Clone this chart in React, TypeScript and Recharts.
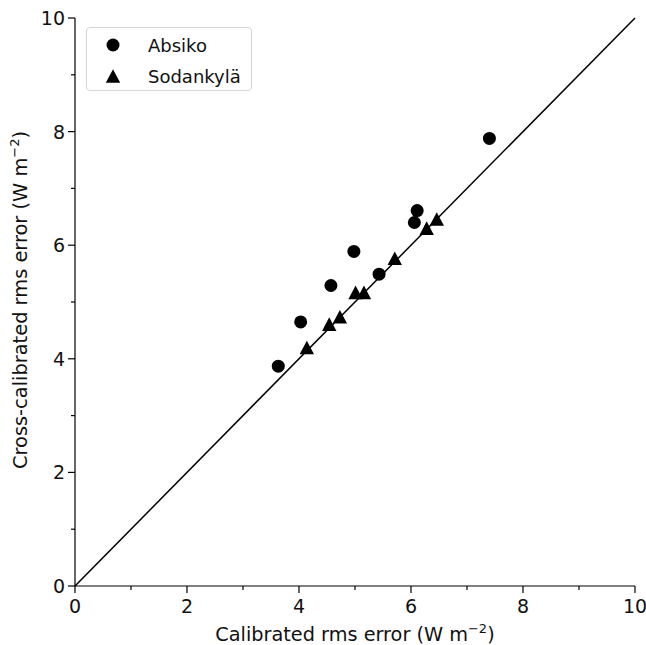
import { ScatterChart, Scatter, XAxis, YAxis, ReferenceLine, Legend } from 'recharts';

const FONT = '"DejaVu Sans", sans-serif';

// values
const absikoX = [3.63, 4.03, 4.57, 4.98, 5.43, 6.06, 6.11, 7.4];
const absikoY = [3.87, 4.65, 5.29, 5.89, 5.49, 6.4, 6.61, 7.88];
const sodankylaX = [4.14, 4.54, 4.73, 5.01, 5.16, 5.71, 6.28, 6.46];
const sodankylaY = [4.2, 4.61, 4.74, 5.17, 5.17, 5.77, 6.3, 6.46];
const seriesNames = ['Absiko', 'Sodankylä'];
const axisTicks = [0, 1, 2, 3, 4, 5, 6, 7, 8, 9, 10];
const identityLine = [{ x: 0, y: 0 }, { x: 10, y: 10 }];

const absiko = absikoX.map((x, i) => ({ x, y: absikoY[i] }));
const sodankyla = sodankylaX.map((x, i) => ({ x, y: sodankylaY[i] }));

const Dot = ({ cx, cy }: any) => <circle cx={cx} cy={cy} r={6.5} fill="#000" />;
const Tri = ({ cx, cy }: any) => (
    <path d={`M${cx},${cy - 6.8}L${cx + 7.2},${cy + 6.8}L${cx - 7.2},${cy + 6.8}Z`} fill="#000" />
);

const XTick = ({ x, y, payload }: any) => {
    const major = payload.value % 2 === 0;
    return (
        <g>
            <line x1={x} x2={x} y1={y} y2={y + (major ? 7 : 4)} stroke="#000" strokeWidth={1.2} />
            {major && (
                <text x={x} y={y + 27} textAnchor="middle" fontSize={19} fontFamily={FONT} fill="#111">
                    {payload.value}
                </text>
            )}
        </g>
    );
};

const YTick = ({ x, y, payload }: any) => {
    const major = payload.value % 2 === 0;
    return (
        <g>
            <line x1={x} x2={x - (major ? 7 : 4)} y1={y} y2={y} stroke="#000" strokeWidth={1.2} />
            {major && (
                <text x={x - 10} y={y + 7} textAnchor="end" fontSize={19} fontFamily={FONT} fill="#111">
                    {payload.value}
                </text>
            )}
        </g>
    );
};

const XLabel = ({ viewBox }: any) => (
    <text x={viewBox.x + viewBox.width / 2} y={viewBox.y + 55} textAnchor="middle" fontSize={19.3} fontFamily={FONT} fill="#111">
        Calibrated rms error (W m<tspan dy={-8} fontSize={13}>−2</tspan><tspan dy={8}>)</tspan>
    </text>
);

const YLabel = ({ viewBox }: any) => {
    const cx = viewBox.x + 27;
    const cy = viewBox.y + viewBox.height / 2 - 2;
    return (
        <text x={cx} y={cy} transform={`rotate(-90 ${cx} ${cy})`} textAnchor="middle" fontSize={19.4} fontFamily={FONT} fill="#111">
            Cross-calibrated rms error (W m<tspan dy={-8} fontSize={13}>−2</tspan><tspan dy={8}>)</tspan>
        </text>
    );
};

const LegendBox = () => (
    <div style={{ width: 166, height: 64, border: '1px solid #d6d6d6', borderRadius: 4, background: 'rgba(255,255,255,0.8)', boxSizing: 'border-box', position: 'relative', fontFamily: FONT, fontSize: 18, color: '#111' }}>
        {seriesNames.map((name, i) => (
            <div key={name} style={{ position: 'absolute', left: 0, top: 4 + i * 31, height: 26, display: 'flex', alignItems: 'center' }}>
                <svg width={60} height={26} style={{ display: 'block' }}>
                    {i === 0 ? <Dot cx={26} cy={13} /> : <Tri cx={26} cy={13} />}
                </svg>
                <span style={{ marginLeft: 1 }}>{name}</span>
            </div>
        ))}
    </div>
);

export default function App() {
    return (
        <div style={{ position: 'absolute', left: 0, top: 0, background: '#fff' }}>
            <ScatterChart width={646} height={645} margin={{ top: 18, right: 11, left: 0, bottom: 0 }}>
                <XAxis dataKey="x" type="number" domain={[0, 10]} ticks={axisTicks} interval={0} height={59}
                    tickSize={0} tickMargin={0} tickLine={false} tick={<XTick />}
                    axisLine={{ stroke: '#000', strokeWidth: 1.2 }} label={{ content: XLabel }} allowDataOverflow />
                <YAxis dataKey="y" type="number" domain={[0, 10]} ticks={axisTicks} interval={0} width={75}
                    tickSize={0} tickMargin={0} tickLine={false} tick={<YTick />}
                    axisLine={{ stroke: '#000', strokeWidth: 1.2 }} label={{ content: YLabel }} allowDataOverflow />
                <XAxis xAxisId="top" orientation="top" type="number" domain={[0, 10]} height={0}
                    tick={false} tickLine={false} axisLine={{ stroke: '#000', strokeWidth: 1.2 }} />
                <YAxis yAxisId="right" orientation="right" type="number" domain={[0, 10]} width={0}
                    tick={false} tickLine={false} axisLine={{ stroke: '#000', strokeWidth: 1.2 }} />
                <ReferenceLine segment={identityLine} stroke="#000" strokeWidth={1.5} />
                <Scatter name={seriesNames[0]} data={absiko} shape={Dot} isAnimationActive={false} />
                <Scatter name={seriesNames[1]} data={sodankyla} shape={Tri} isAnimationActive={false} />
                <Legend layout="horizontal" align="center" verticalAlign="middle" content={LegendBox}
                    wrapperStyle={{ left: 86, top: 27, width: 166, height: 64 }} />
            </ScatterChart>
        </div>
    );
}
